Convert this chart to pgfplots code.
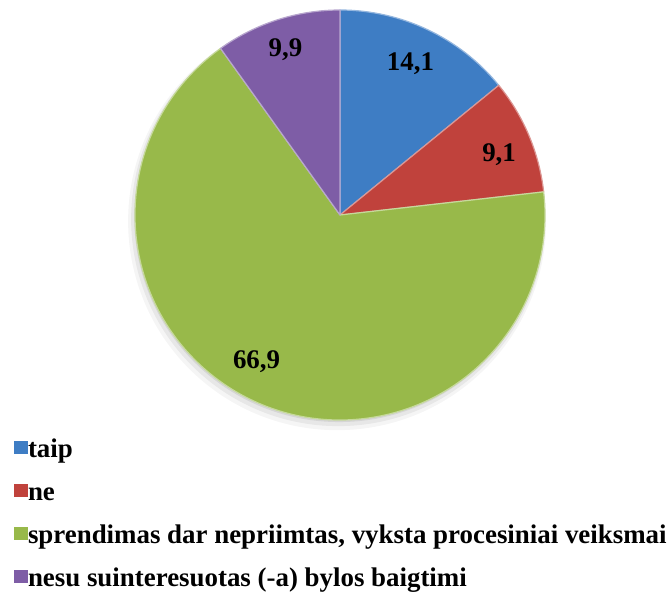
\documentclass[border=0pt]{standalone}
\usepackage{pgfplots}
\pgfplotsset{compat=1.18}
\usepackage{pgfplotstable}
\usepackage{fontspec}
\setmainfont{Liberation Serif}
\definecolor{pieblue}{RGB}{62,125,196}
\definecolor{piered}{RGB}{192,66,60}
\definecolor{piegreen}{RGB}{152,185,74}
\definecolor{piepurple}{RGB}{126,93,166}
\pgfplotstableread{
idx value
0 14.1
1 9.1
2 66.9
3 9.9
}\piedata
\begin{document}
\begin{tikzpicture}
\pgfplotstablegetelem{0}{value}\of\piedata \let\vA\pgfplotsretval
\pgfplotstablegetelem{1}{value}\of\piedata \let\vB\pgfplotsretval
\pgfplotstablegetelem{2}{value}\of\piedata \let\vC\pgfplotsretval
\pgfplotstablegetelem{3}{value}\of\piedata \let\vD\pgfplotsretval
\pgfmathsetmacro\aA{90}
\pgfmathsetmacro\aB{\aA-3.6*\vA}
\pgfmathsetmacro\aC{\aB-3.6*\vB}
\pgfmathsetmacro\aD{\aC-3.6*\vC}
\pgfmathsetmacro\aE{\aD-3.6*\vD}
\begin{axis}[
  x=205bp, y=205bp,
  xmin=-1.6585, xmax=1.6098, ymin=-1.8585, ymax=1.0488,
  hide axis, clip=false,
  legend image code/.code={\fill[#1, draw=none] (0bp,-2.5bp) rectangle (14bp,10bp);},
  legend cell align=left,
  legend style={at={(axis cs:-1.5902,-1.0946)}, anchor=north west,
    draw=none, fill=none, inner sep=0pt, outer sep=0pt,
    font=\bfseries\fontsize{27}{32}\selectfont,
    nodes={inner sep=0pt, text height=18bp, text depth=6bp},
    row sep=19bp,
    /tikz/every even column/.append style={column sep=4.5bp}},
]
\path (rel axis cs:0,0) rectangle (rel axis cs:1,1);
% soft shadow
\fill[black, opacity=0.04] (axis cs:-0.014,-0.03) circle[radius=209bp];
\fill[black, opacity=0.06] (axis cs:-0.009,-0.02) circle[radius=207bp];
\fill[black, opacity=0.08] (axis cs:-0.004,-0.01) circle[radius=205bp];
% slices
\filldraw[fill=pieblue, draw=pieblue!55!white, line width=1.2bp, line join=round]
  (axis cs:0,0) -- (axis cs:{cos(\aA)},{sin(\aA)}) arc[start angle=\aA, end angle=\aB, radius=205bp] -- cycle;
\filldraw[fill=piered, draw=piered!55!white, line width=1.2bp, line join=round]
  (axis cs:0,0) -- (axis cs:{cos(\aB)},{sin(\aB)}) arc[start angle=\aB, end angle=\aC, radius=205bp] -- cycle;
\filldraw[fill=piegreen, draw=piegreen!55!white, line width=1.2bp, line join=round]
  (axis cs:0,0) -- (axis cs:{cos(\aC)},{sin(\aC)}) arc[start angle=\aC, end angle=\aD, radius=205bp] -- cycle;
\filldraw[fill=piepurple, draw=piepurple!55!white, line width=1.2bp, line join=round]
  (axis cs:0,0) -- (axis cs:{cos(\aD)},{sin(\aD)}) arc[start angle=\aD, end angle=\aE, radius=205bp] -- cycle;
% labels
\node[font=\bfseries\fontsize{27}{32}\selectfont] at (axis cs:0.344,0.737) {14,1};
\node[font=\bfseries\fontsize{27}{32}\selectfont] at (axis cs:0.776,0.293) {9,1};
\node[font=\bfseries\fontsize{27}{32}\selectfont] at (axis cs:-0.407,-0.717) {66,9};
\node[font=\bfseries\fontsize{27}{32}\selectfont] at (axis cs:-0.266,0.805) {9,9};
% legend
\addlegendimage{fill=pieblue}
\addlegendentry{taip}
\addlegendimage{fill=piered}
\addlegendentry{ne}
\addlegendimage{fill=piegreen}
\addlegendentry{sprendimas dar nepriimtas, vyksta procesiniai veiksmai}
\addlegendimage{fill=piepurple}
\addlegendentry{nesu suinteresuotas (-a) bylos baigtimi}
\end{axis}
\end{tikzpicture}
\end{document}
